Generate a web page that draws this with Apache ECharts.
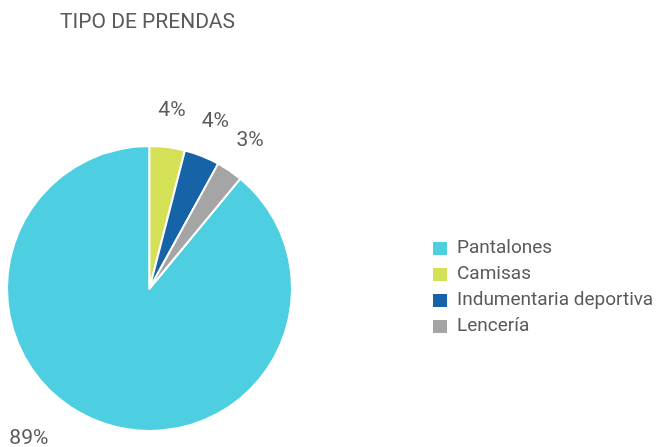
<!DOCTYPE html>
<html>
<head>
<meta charset="utf-8">
<script src="https://cdn.jsdelivr.net/npm/echarts@6/dist/echarts.min.js"></script>
<style>html,body{margin:0;padding:0;background:#fff}#c{width:659px;height:447px}</style>
</head>
<body>
<div id="c"></div>
<script>
const categories = ['Pantalones', 'Camisas', 'Indumentaria deportiva', 'Lencería'];
const values = [89, 4, 4, 3];
const colors = ['#4DCFE1', '#D4E157', '#1763A8', '#A5A5A5'];

const chart = echarts.init(document.getElementById('c'));
const center = [149.5, 288.5];
const startAngle = 90 - (100 - values[0]) / 100 * 360;
const pieData = categories.map((n, i) => ({ name: n, value: values[i], itemStyle: { color: colors[i] } }));
const labelData = categories.map((n, i) => {
  const d = { name: n, value: values[i] };
  if (i === 0) d.label = { offset: [-60, -18] };
  return d;
});
chart.setOption({
  animation: false,
  title: {
    text: 'TIPO DE PRENDAS', left: 60, top: 12, padding: 0,
    textStyle: { fontFamily: 'Roboto', fontSize: 21, fontWeight: 'normal', color: '#5a5a5a' }
  },
  legend: {
    orient: 'vertical', left: 431, top: 239, padding: 0,
    itemWidth: 16, itemHeight: 15, itemGap: 7, icon: 'rect',
    data: categories,
    textStyle: { fontFamily: 'Roboto', fontSize: 19, color: '#5a5a5a', padding: [0, 0, 0, 4] }
  },
  series: [
    {
      type: 'pie', center: center, radius: 142.5, startAngle: startAngle, clockwise: true,
      label: { show: false }, labelLine: { show: false },
      itemStyle: { borderColor: '#fff', borderWidth: 2 },
      emphasis: { disabled: true },
      data: pieData
    },
    {
      type: 'pie', center: center, radius: [164, 188], startAngle: startAngle, clockwise: true,
      silent: true, legendHoverLink: false,
      itemStyle: { color: 'rgba(0,0,0,0)' },
      label: {
        show: true, position: 'inside', formatter: '{c}%',
        fontFamily: 'Roboto', fontSize: 21, color: '#5a5a5a'
      },
      labelLine: { show: false },
      emphasis: { disabled: true },
      data: labelData
    }
  ]
});
</script>
</body>
</html>
